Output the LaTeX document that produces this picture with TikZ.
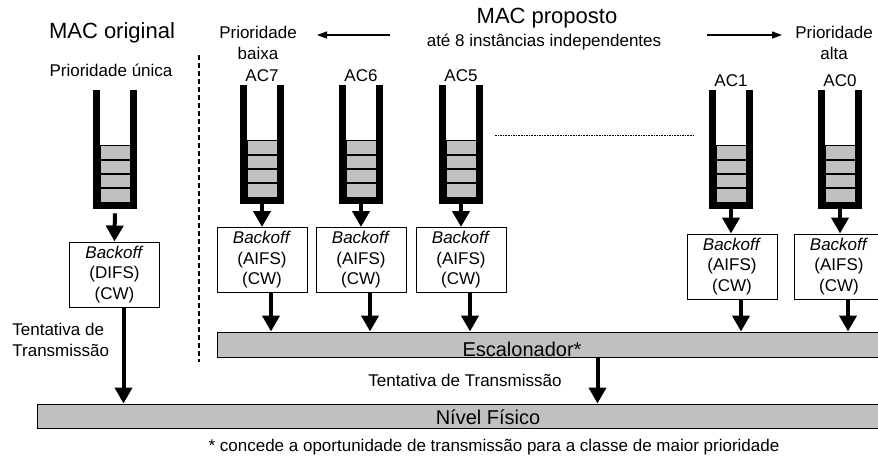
\documentclass[tikz,border=0pt]{standalone}
\usepackage{fontspec}
\setmainfont{Liberation Sans}
\usepackage{tikz}
\usetikzlibrary{arrows.meta,positioning,calc}
\definecolor{SlotGrey}{HTML}{C0C0C0}

\begin{document}
\begin{tikzpicture}[x=0.5pt,y=-0.5pt,
  every node/.style={font=\fontsize{8.5}{10.25}\selectfont,inner sep=1pt},
  titulo/.style={font=\fontsize{11}{13}\selectfont},
  grande/.style={font=\fontsize{10}{12}\selectfont},
  fila/.style={minimum width=18pt,minimum height=57.5pt,inner sep=0pt},
  parede/.style={line width=3.25pt},
  caixa/.style={draw,line width=0.5pt,minimum width=45pt,minimum height=32.5pt,align=center,inner sep=0pt},
  barra/.style={draw,line width=0.5pt,fill=SlotGrey,minimum height=12.5pt,inner sep=0pt},
  seta/.style={line width=2pt,-{Triangle[length=8pt,width=8.5pt]}},
  fina/.style={line width=0.6pt,-{Triangle[length=5pt,width=3.5pt]}}]
  \useasboundingbox (0,0) rectangle (878,463);
  \clip (0,0) rectangle (878,463);

  % Titulos
  \node[titulo] (mo) at (112,33){MAC original};
  \node (pu) at (111,70){Prioridade única};
  \node[titulo] (mp) at (547,18){MAC proposto};
  \node (inst) at (544,42){até 8 instâncias independentes};
  \node[align=center] (pbaixa) at (258,43){Prioridade\\baixa};
  \node[align=center] (palta) at (834,43){Prioridade\\alta};
  \coordinate (esqA) at (390,35);
  \coordinate (esqB) at (317,35);
  \coordinate (dirA) at (707,35);
  \coordinate (dirB) at (782,35);
  \draw[fina] (esqA) -- (esqB);
  \draw[fina] (dirA) -- (dirB);
  \draw[line width=0.8pt,dash pattern=on 2.5pt off 1.5pt] (199,55) -- (199,362);

  % Filas
  \foreach \nome/\cx/\cy in {fo/115/147.5,ac7/262/142.5,ac6/361/142.5,ac5/461/142.5,ac1/731/147.5,ac0/840/147.5}{
    \node[fila] (\nome) at (\cx,\cy){};
    \foreach \k in {0,...,3}
      \draw[fill=SlotGrey,line width=0.9pt] ($(\nome.south west)+(3,-3-14.25*\k)$) rectangle ($(\nome.south east)+(-3,-17.25-14.25*\k)$);
    \draw[parede] (\nome.north west) -- (\nome.south west) -- (\nome.south east) -- (\nome.north east);
  }
  \foreach \nome/\txt in {ac7/AC7,ac6/AC6,ac5/AC5,ac1/AC1,ac0/AC0}
    \node[above=0.5pt of \nome] (l\nome){\txt};
  \draw[line width=0.5pt,dash pattern=on 0.8pt off 0.5pt] (495,135) -- (693,135);

  % Backoff
  \node[caixa] (bo) at (114.5,274.5){\textit{Backoff}\\(DIFS)\\(CW)};
  \foreach \i/\cx/\cy in {7/262/260,6/361/260,5/461/260,1/732/266.5,0/839/266.5}
    \node[caixa] (b\i) at (\cx,\cy){\textit{Backoff}\\(AIFS)\\(CW)};
  \draw[seta,shorten <=4pt] (fo.south) -- (bo.north);
  \foreach \i in {7,6,5,1,0}
    \draw[seta] (ac\i.south) -- (ac\i.south |- b\i.north);

  % Escalonador e nivel fisico
  \node[barra,minimum width=336.5pt,anchor=west] (esc) at (217,344.5){};
  \node[grande,anchor=base] (escl) at (522,356){Escalonador*};
  \node[barra,minimum width=426.5pt,minimum height=12pt,anchor=west] (fis) at (37,416){};
  \node[grande] (fisl) at (488,417){Nível Físico};
  \foreach \i in {7,6,5,1,0}
    \draw[seta] ([xshift=4.5pt]b\i.south) -- ([xshift=4.5pt]b\i.south |- esc.north);
  \draw[seta] ([xshift=4.5pt]bo.south) -- ([xshift=4.5pt]bo.south |- fis.north);
  \draw[seta] ([xshift=21.75pt]esc.south) -- ([xshift=21.75pt]esc.south |- fis.north);
  \node[anchor=west,align=left] (tt1) at (10,340){Tentativa de\\Transmissão};
  \node (tt2) at (465,380){Tentativa de Transmissão};
  \node (nota) at (494,447){* concede a oportunidade de transmissão para a classe de maior prioridade};
\end{tikzpicture}
\end{document}
